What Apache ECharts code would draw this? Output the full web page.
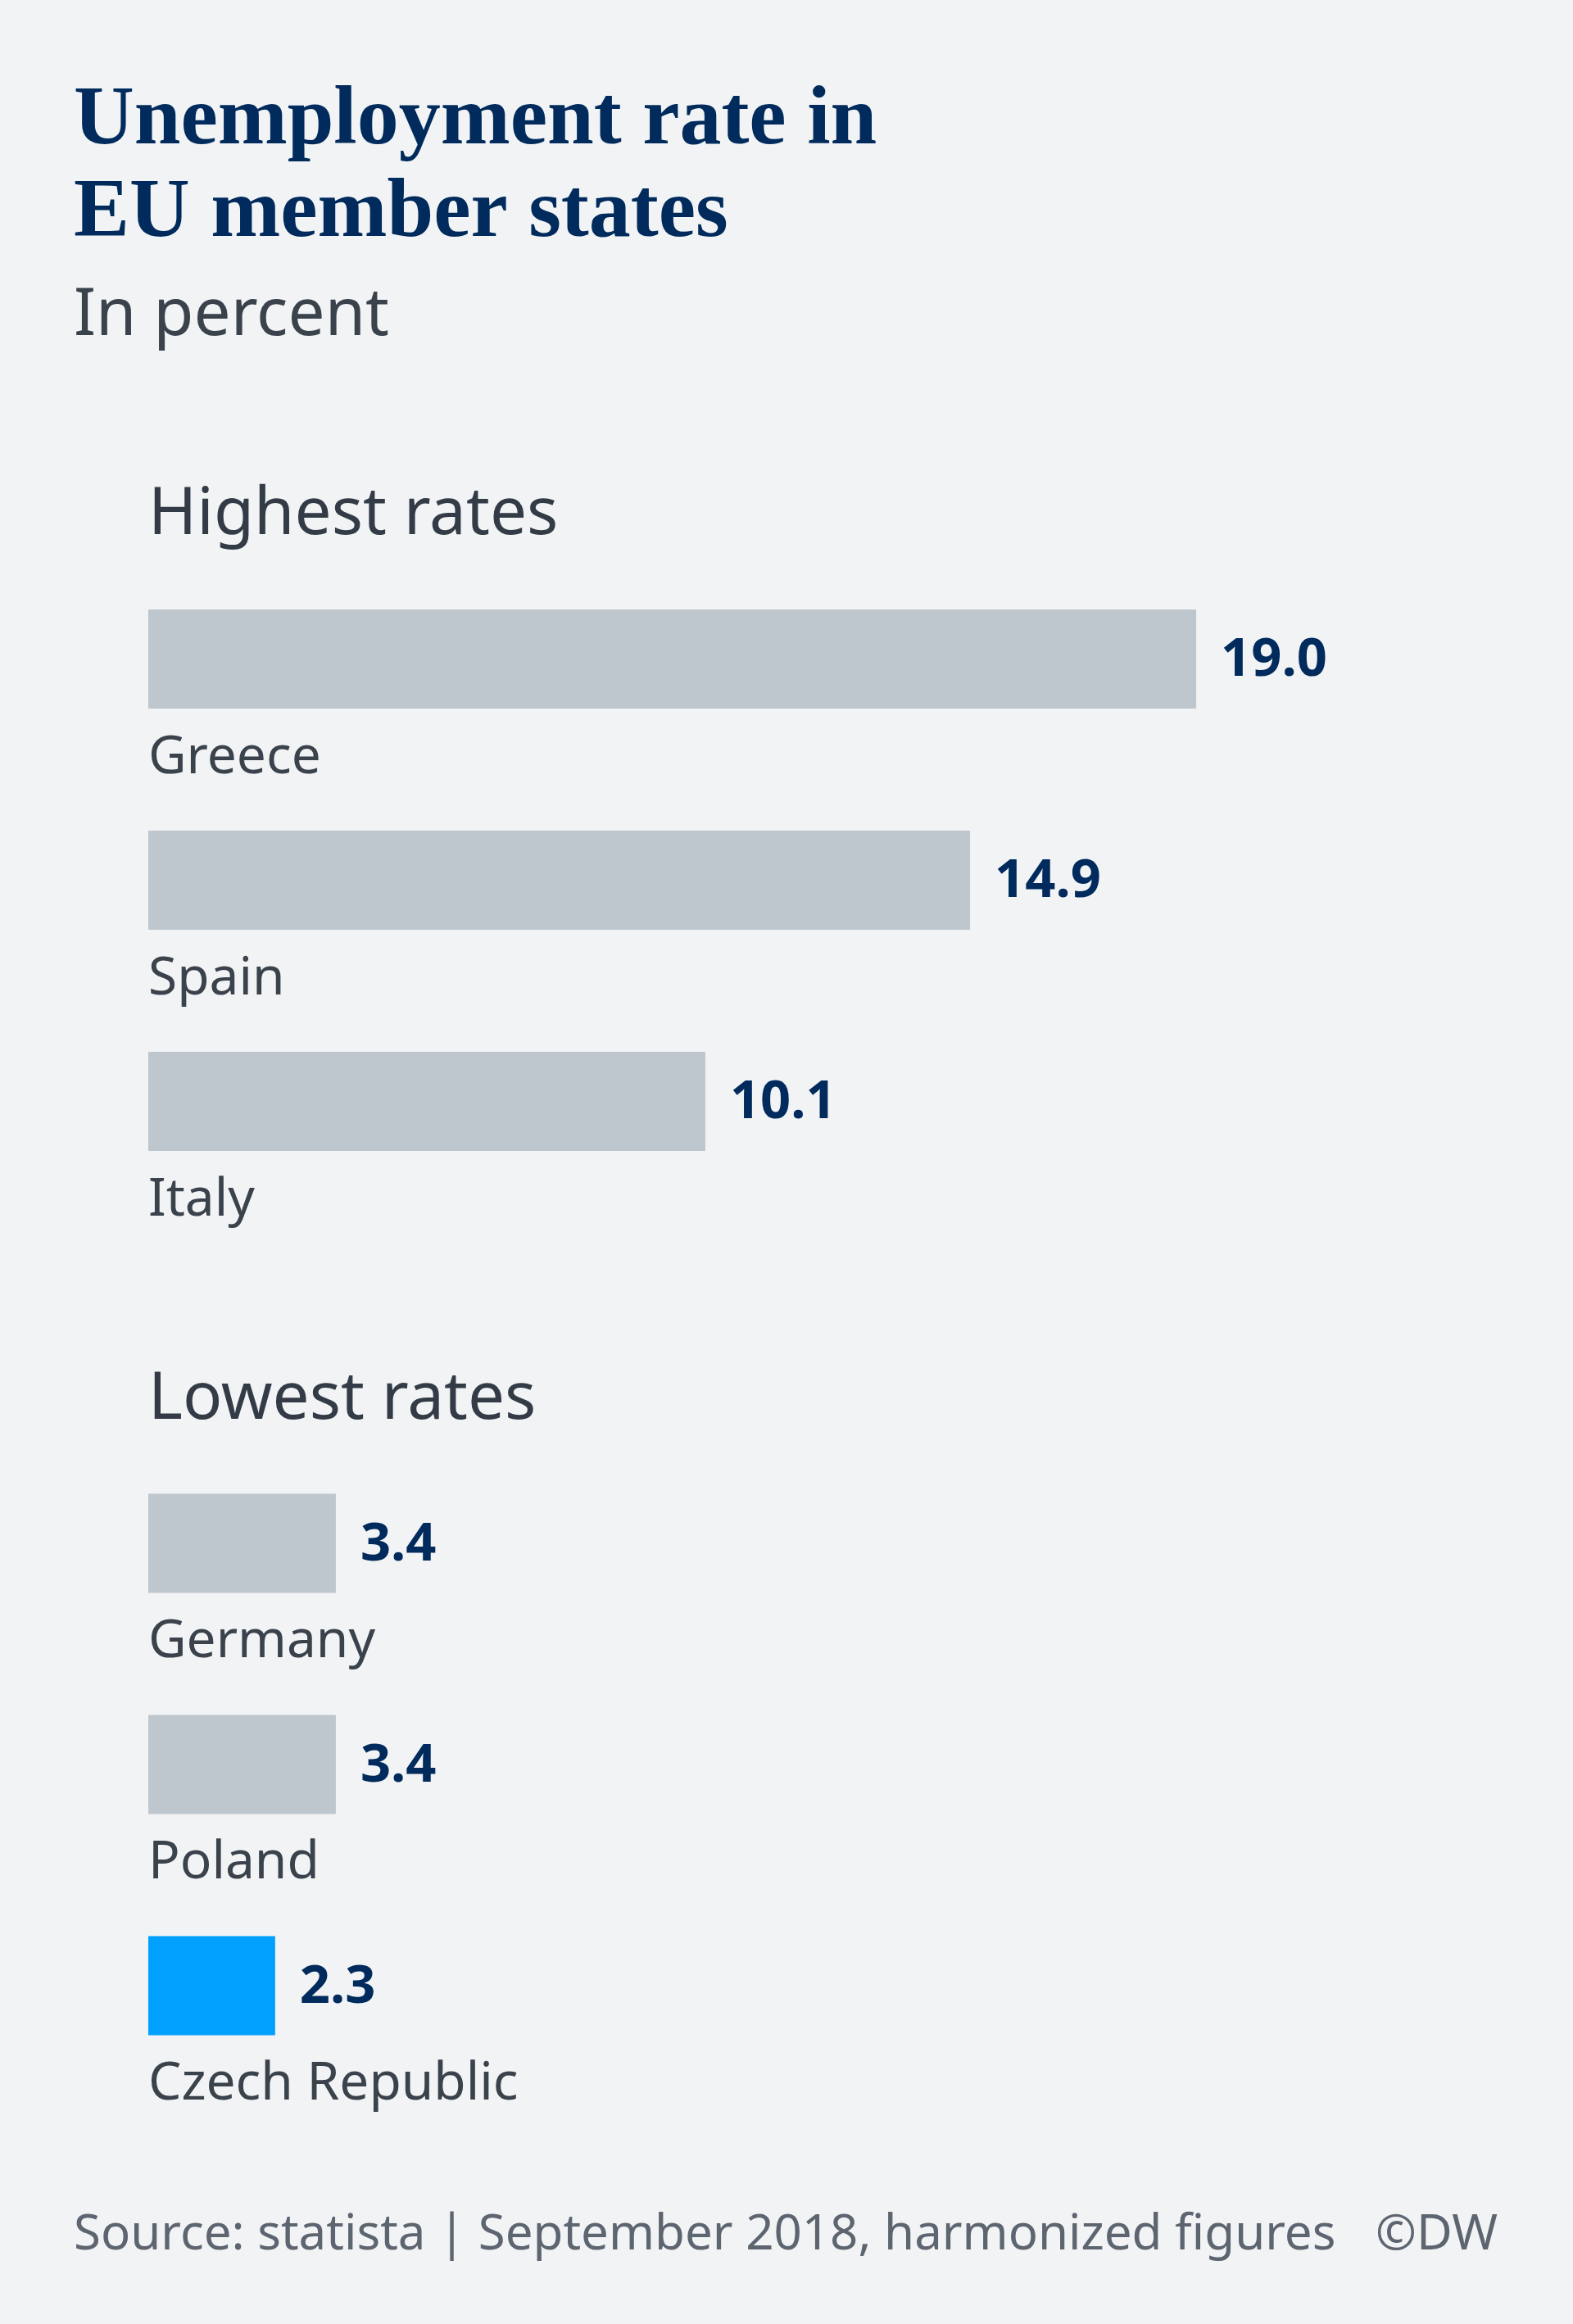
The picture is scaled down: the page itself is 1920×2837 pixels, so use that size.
<!DOCTYPE html>
<html>
<head>
<meta charset="utf-8">
<script src="https://cdn.jsdelivr.net/npm/echarts@6/dist/echarts.min.js"></script>
<style>
html,body{margin:0;padding:0;background:#f2f3f5;}
#chart{width:1920px;height:2837px;}
</style>
</head>
<body>
<div id="chart"></div>
<script>
const highestCountries = ['Greece', 'Spain', 'Italy'];
const highestValues = [19.0, 14.9, 10.1];
const lowestCountries = ['Germany', 'Poland', 'Czech Republic'];
const lowestValues = [3.4, 3.4, 2.3];
const highlightCountry = 'Czech Republic';

const titleText = 'Unemployment rate in\nEU member states';
const subtitleText = 'In percent';
const groupTitles = ['Highest rates', 'Lowest rates'];
const sourceText = 'Source: statista | September 2018, harmonized figures';
const creditText = '©DW';

const SANS = '"Noto Sans", "Open Sans", sans-serif';
const GRAY = '#bec6ce';
const BLUE = '#00a0ff';
const NAVY = '#002b5c';

function barData(names, vals) {
  return vals.map((v, i) => ({
    value: v,
    itemStyle: { color: names[i] === highlightCountry ? BLUE : GRAY }
  }));
}

function yAxisFor(idx, names) {
  return {
    gridIndex: idx,
    type: 'category',
    inverse: true,
    data: names,
    axisLine: { show: false },
    axisTick: { show: false },
    splitLine: { show: false },
    axisLabel: {
      inside: true,
      margin: 0,
      interval: 0,
      align: 'left',
      verticalAlign: 'top',
      padding: [89, 0, 0, 0],
      lineHeight: 64,
      fontSize: 64,
      fontFamily: SANS,
      color: '#3a424c'
    }
  };
}

function xAxisFor(idx) {
  return {
    gridIndex: idx, type: 'value', min: 0, max: 25, show: false
  };
}

function seriesFor(idx, names, vals) {
  return {
    type: 'bar',
    xAxisIndex: idx,
    yAxisIndex: idx,
    barWidth: 121,
    data: barData(names, vals),
    silent: true,
    label: {
      show: true,
      position: 'right',
      distance: 30,
      offset: [0, 2],
      formatter: p => p.value.toFixed(1),
      fontFamily: SANS,
      fontWeight: 'bold',
      fontSize: 65,
      color: NAVY
    }
  };
}

const chart = echarts.init(document.getElementById('chart'), null, { renderer: 'canvas' });
chart.setOption({
  backgroundColor: '#f2f3f5',
  animation: false,
  title: [
    {
      text: titleText, left: 90, top: 92, padding: 0,
      textStyle: { fontFamily: '"Liberation Serif", serif', fontWeight: 'bold', fontSize: 102, lineHeight: 113, color: NAVY }
    },
    {
      text: subtitleText, left: 90, top: 346, padding: 0,
      textStyle: { fontFamily: SANS, fontWeight: 'normal', fontSize: 80, lineHeight: 80, color: '#3a424c' }
    },
    {
      text: groupTitles[0], left: 181, top: 589, padding: 0,
      textStyle: { fontFamily: SANS, fontWeight: 'normal', fontSize: 80, lineHeight: 80, color: '#333c46' }
    },
    {
      text: groupTitles[1], left: 181, top: 1669, padding: 0,
      textStyle: { fontFamily: SANS, fontWeight: 'normal', fontSize: 80, lineHeight: 80, color: '#333c46' }
    },
    {
      text: sourceText, left: 90, top: 2699, padding: 0,
      textStyle: { fontFamily: SANS, fontWeight: 'normal', fontSize: 60, lineHeight: 60, color: '#5d6670' }
    },
    {
      text: creditText, right: 92, top: 2699, padding: 0,
      textStyle: { fontFamily: SANS, fontWeight: 'normal', fontSize: 60, lineHeight: 60, color: '#5d6670' }
    }
  ],
  grid: [
    { left: 181, width: 1683, top: 669.5, height: 810 },
    { left: 181, width: 1683, top: 1749, height: 810 }
  ],
  xAxis: [xAxisFor(0), xAxisFor(1)],
  yAxis: [yAxisFor(0, highestCountries), yAxisFor(1, lowestCountries)],
  series: [
    seriesFor(0, highestCountries, highestValues),
    seriesFor(1, lowestCountries, lowestValues)
  ]
});
</script>
</body>
</html>
